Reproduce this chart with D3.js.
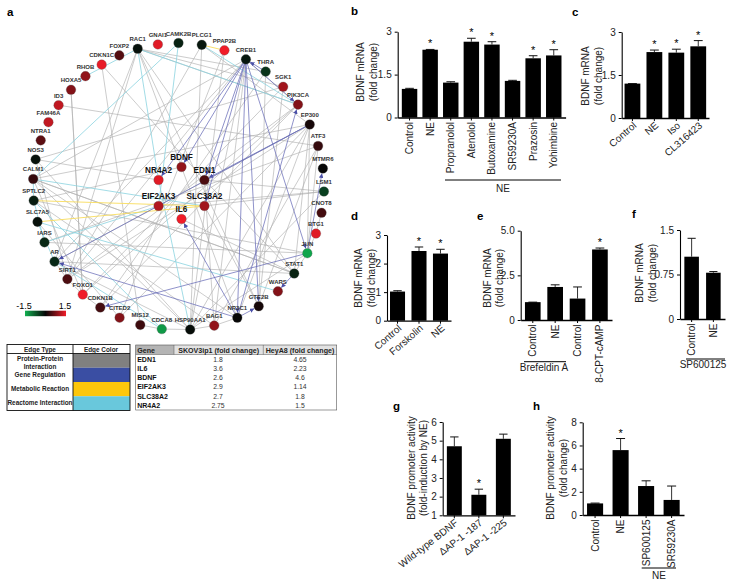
<!DOCTYPE html>
<html>
<head>
<meta charset="utf-8">
<script src="https://cdn.jsdelivr.net/npm/d3@7"></script>
<style>
body { margin: 0; background: #fff; }
svg { display: block; font-family: "Liberation Sans", Arial, sans-serif; }
</style>
</head>
<body>
<div id="chart"></div>
<script>
// network nodes, clockwise, with expression value
const outerGenes = ["RAC1","GNAI1","CAMK2B","PLCG1","PPAP2B","CREB1","THRA","SGK1","PIK3CA","EP300","ATF3","MTMR6","LSM1","CNOT8","BTG1","JUN","STAT1","WARS","GTE2B","NR3C1","BAG1","HSP90AA1","CDCA8","MIS12","CITED2","CDKN1B","FOXO1","SIRT1","AR","IARS","SLC7A5","SPTLC2","CALM1","NOS3","NTRA1","FAM46A","ID3","HOXA5","RHOB","CDKN1C","FOXP2"];
const outerValues = [-0.1,1.4,-0.25,-0.15,1.5,-0.15,-0.4,1.0,0.8,0.1,0.3,0,-0.5,0.4,1.4,-1.4,-0.25,0.8,0.1,0,0.9,-0.05,-1.3,0.35,0.8,0.4,1.5,0.45,-0.3,-0.3,-0.1,-0.2,0.3,-0.1,0.55,1.2,1.2,0.8,0.9,1.45,0.5];
const innerGenes = ["BDNF","EDN1","SLC38A2","IL6","EIF2AK3","NR4A2"];
const innerValues = [0.9,0.45,1.0,1.5,1.1,1.4];

const grayEdges = [
  ["RAC1","SIRT1"],["RAC1","AR"],["RAC1","NR3C1"],["RAC1","STAT1"],["RAC1","GTE2B"],["RAC1","THRA"],["RAC1","SGK1"],["RAC1","PIK3CA"],
  ["CDKN1C","EDN1"],["HOXA5","FOXO1"],["ID3","ATF3"],["NOS3","NR4A2"],["CALM1","EP300"],["CALM1","CREB1"],["CALM1","FOXO1"],["CALM1","STAT1"],
  ["SPTLC2","BDNF"],["SPTLC2","BAG1"],["SPTLC2","JUN"],["PPAP2B","HSP90AA1"],["PPAP2B","CITED2"],["PLCG1","HSP90AA1"],["PLCG1","EP300"],["PLCG1","SIRT1"],
  ["CREB1","HSP90AA1"],["CREB1","BAG1"],["CREB1","SIRT1"],["CREB1","AR"],["THRA","GTE2B"],["THRA","CDKN1B"],["SGK1","FOXO1"],["SGK1","NOS3"],
  ["PIK3CA","CREB1"],["PIK3CA","SIRT1"],["PIK3CA","CDKN1B"],["PIK3CA","FOXO1"],["EP300","SIRT1"],["EP300","STAT1"],["EP300","HSP90AA1"],["EP300","CITED2"],
  ["EP300","NR3C1"],["EP300","JUN"],["ATF3","JUN"],["ATF3","GTE2B"],["ATF3","BAG1"],["ATF3","IARS"],["LSM1","EIF2AK3"],["LSM1","EDN1"],["LSM1","SLC38A2"],["LSM1","HSP90AA1"],
  ["CNOT8","BTG1"],["BTG1","JUN"],["JUN","STAT1"],["JUN","HSP90AA1"],["STAT1","IL6"],["STAT1","EDN1"],["STAT1","CALM1"],["BAG1","HSP90AA1"],["BAG1","NR3C1"],["BAG1","EDN1"],
  ["HSP90AA1","CALM1"],["HSP90AA1","AR"],["HSP90AA1","NOS3"],["AR","SIRT1"],["AR","EP300"],["AR","STAT1"],["FOXO1","SIRT1"],["FOXO1","CDKN1B"],["FOXO1","HOXA5"],["MIS12","CDKN1C"],
  ["MIS12","CDCA8"],["CDCA8","HSP90AA1"],["SLC38A2","GTE2B"],["IARS","JUN"],["SLC7A5","CITED2"],["SIRT1","NOS3"],["NR3C1","CALM1"],["GTE2B","SGK1"]
];
const cyanEdges = [
  ["RHOB","RAC1"],["CALM1","CAMK2B"],["RAC1","NR4A2"],["RAC1","PIK3CA"],["CAMK2B","EIF2AK3"],["CALM1","SLC38A2"],["IARS","EIF2AK3"],["SLC7A5","WARS"],
  ["AR","CDCA8"],["NR4A2","HSP90AA1"],["SPTLC2","IARS"],["CALM1","SPTLC2"],["SLC7A5","AR"],["PLCG1","PIK3CA"],["SPTLC2","CDCA8"]
];
const yellowEdges = [["PLCG1","PPAP2B"],["SPTLC2","SLC38A2"],["SLC7A5","SLC38A2"]];
const blueEdges = [
  ["CREB1","NR4A2"],["CREB1","BDNF"],["CREB1","EDN1"],["CREB1","SLC38A2"],["CREB1","NR3C1"],["CREB1","GTE2B"],["CREB1","JUN"],["CREB1","PIK3CA"],
  ["EP300","EDN1"],["EP300","AR"],["JUN","CDKN1B"],["NR3C1","AR"],["NR3C1","IL6"],["NR3C1","GTE2B"],["STAT1","WARS"],["NR3C1","PIK3CA"],["JUN","MTMR6"],["THRA","CREB1"]
];

// table contents
const edgeTypes = ["Protein-Protein\nInteraction","Gene Regulation","Metabolic Reaction","Reactome Interaction"];
const tableHeader = ["Gene","SKOV3ip1 (fold change)","HeyA8 (fold change)"];
const tableGenes = ["EDN1","IL6","BDNF","EIF2AK3","SLC38A2","NR4A2"];
const tableSkov = ["1.8","3.6","2.6","2.9","2.7","2.75"];
const tableHey = ["4.65","2.23","4.6","1.14","1.8","1.5"];

// bar panels: value, top of the error bar
const bLabels = ["Control","NE","Propranolol","Atenolol","Butoxamine","SR59230A","Prazosin","Yohimbine"];
const bValues = [1.0,2.37,1.22,2.65,2.55,1.28,2.07,2.17];
const bErrors = [1.02,2.38,1.25,2.77,2.65,1.3,2.16,2.37];
const bStars = [0,1,0,1,1,0,1,1];
const cLabels = ["Control","NE","Iso","CL316423"];
const cValues = [1.2,2.3,2.28,2.5];
const cErrors = [1.2,2.37,2.4,2.7];
const cStars = [0,1,1,1];
const dLabels = ["Control","Forskolin","NE"];
const dValues = [1.02,2.44,2.35];
const dErrors = [1.05,2.58,2.5];
const dStars = [0,1,1];
const eLabels = ["Control","NE","Control ","8-CPT-cAMP"];
const eValues = [1.0,1.85,1.2,3.95];
const eErrors = [1.0,1.97,1.85,4.03];
const eStars = [0,0,0,1];
const fLabels = ["Control","NE"];
const fValues = [1.05,0.78];
const fErrors = [1.36,0.8];
const fStars = [0,0];
const gLabels = ["Wild-type BDNF","\u0394AP-1 -187","\u0394AP-1 -225"];
const gValues = [4.7,2.1,5.1];
const gErrors = [5.2,2.4,5.35];
const gStars = [0,1,0];
const hLabels = ["Control","NE","SP600125","SR59230A"];
const hValues = [1.0,5.6,2.5,1.3];
const hErrors = [1.03,6.6,2.95,2.5];
const hStars = [0,1,0,0];

const svg = d3.select("#chart").append("svg").attr("width", 733).attr("height", 585);

// ---- panel letters
[["a",7,16],["b",351,15],["c",572,16],["d",351,220],["e",477,220],["f",632,218],["g",393,410],["h",533,410]].forEach((d) => {
    svg.append("text").attr("x", d[1]).attr("y", d[2]).attr("font-size", 11.5).attr("font-weight", "bold").text(d[0]);
});

// ---- network
const color = d3.scaleLinear().domain([-1.5, 0, 1.5]).range(["#10b050", "#060606", "#f01c28"]);
// circular layout, the spacing is a bit uneven in the original so the scale is piecewise
const outerAngle = d3.scaleLinear().domain([0, 2, 12, 15, 21, 22, 32, 40]).range([-106.3, -90, 2, 27.7, 85.4, 96.6, 183, 246]);
const innerAngle = d3.scaleLinear().domain([0, 6]).range([-90, 270]);
const nodes = {};
outerGenes.forEach((g, i) => {
    const a = outerAngle(i) * Math.PI / 180;
    nodes[g] = { name: g, value: outerValues[i], x: 178.5 + 145.5 * Math.cos(a), y: 186.5 + 143.5 * Math.sin(a), inner: false };
});
innerGenes.forEach((g, i) => {
    const a = innerAngle(i) * Math.PI / 180;
    nodes[g] = { name: g, value: innerValues[i], x: 181.5 + 26.5 * Math.cos(a), y: 193 + 26 * Math.sin(a), inner: true };
});

const defs = svg.append("defs");
defs.append("marker").attr("id", "arrow").attr("viewBox", "0 0 6 6").attr("refX", 6).attr("refY", 3)
    .attr("markerWidth", 4.5).attr("markerHeight", 4.5).attr("markerUnits", "userSpaceOnUse").attr("orient", "auto")
    .append("path").attr("d", "M0,0L6,3L0,6z").attr("fill", "#4b50a8");

function drawEdges(list, stroke, width, arrow) {
    svg.append("g").selectAll("line").data(list).enter().append("line")
        .attr("x1", (d) => nodes[d[0]].x)
        .attr("y1", (d) => nodes[d[0]].y)
        .attr("x2", (d) => {
            const s = nodes[d[0]], t = nodes[d[1]];
            return t.x - 5 * (t.x - s.x) / Math.hypot(t.x - s.x, t.y - s.y);
        })
        .attr("y2", (d) => {
            const s = nodes[d[0]], t = nodes[d[1]];
            return t.y - 5 * (t.y - s.y) / Math.hypot(t.x - s.x, t.y - s.y);
        })
        .attr("stroke", stroke)
        .attr("stroke-width", width)
        .attr("marker-end", arrow ? "url(#arrow)" : null);
}
drawEdges(grayEdges, "#b0b0b0", 0.65, false);
drawEdges(cyanEdges, "#8ad3df", 0.8, false);
drawEdges(yellowEdges, "#f8dc5c", 0.9, false);
drawEdges(blueEdges, "#6a6eb8", 0.75, true);

const nodeList = Object.values(nodes);
svg.append("g").selectAll("circle").data(nodeList).enter().append("circle")
    .attr("cx", (d) => d.x).attr("cy", (d) => d.y).attr("r", 4.8)
    .attr("fill", (d) => color(d.value)).attr("stroke", "#555").attr("stroke-width", 0.3);
svg.append("g").selectAll("text").data(nodeList).enter().append("text")
    .attr("x", (d) => d.x).attr("y", (d) => d.y - 7.5)
    .attr("text-anchor", "middle")
    .attr("font-weight", "bold")
    .attr("fill", (d) => d.inner ? "#111" : "#333")
    .attr("font-size", (d) => d.inner ? 8.2 : 6)
    .text((d) => d.name);

// ---- colour legend
const legendScale = d3.scaleLinear().domain([-1.5, 1.5]).range([25, 66]);
const grad = defs.append("linearGradient").attr("id", "legendGrad");
[-1.5, 0, 1.5].forEach((v) => {
    grad.append("stop").attr("offset", (v + 1.5) / 3).attr("stop-color", color(v));
});
svg.append("rect").attr("x", legendScale(-1.5)).attr("y", 310.7).attr("width", legendScale(1.5) - legendScale(-1.5)).attr("height", 5.5).attr("fill", "url(#legendGrad)");
svg.append("text").attr("x", legendScale(-1.5) - 1).attr("y", 309).attr("text-anchor", "middle").attr("font-size", 9).text("-1.5");
svg.append("text").attr("x", legendScale(1.5) - 1).attr("y", 309).attr("text-anchor", "middle").attr("font-size", 9).text("1.5");

// ---- edge type table
const edgeFill = ["#808080", "#3a4ea3", "#fdc70c", "#69c8dc"];
const edgeRow = d3.scaleBand().domain(edgeTypes).range([353.5, 410.5]);
const tableA = svg.append("g");
tableA.selectAll("rect.swatch").data(edgeTypes).enter().append("rect")
    .attr("x", 73).attr("y", (d) => edgeRow(d)).attr("width", 57).attr("height", edgeRow.bandwidth())
    .attr("fill", (d, i) => edgeFill[i]);
tableA.append("rect").attr("x", 7).attr("y", 344.5).attr("width", 123).attr("height", 66).attr("fill", "none").attr("stroke", "#111").attr("stroke-width", 0.9);
tableA.append("line").attr("x1", 7).attr("x2", 130).attr("y1", 353.5).attr("y2", 353.5).attr("stroke", "#111").attr("stroke-width", 0.9);
tableA.append("line").attr("x1", 73).attr("x2", 73).attr("y1", 344.5).attr("y2", 410.5).attr("stroke", "#111").attr("stroke-width", 0.9);
tableA.selectAll("text.head").data(["Edge Type", "Edge Color"]).enter().append("text")
    .attr("x", (d, i) => i ? 101 : 40).attr("y", 352).attr("text-anchor", "middle")
    .attr("font-size", 6.4).attr("font-weight", "bold").attr("fill", "#222").text((d) => d);
[["Protein-Protein", 361], ["Interaction", 369], ["Gene Regulation", 377], ["Metabolic Reaction", 391], ["Reactome Interaction", 405]].forEach((d) => {
    tableA.append("text").attr("x", 40).attr("y", d[1]).attr("text-anchor", "middle").attr("font-size", 6.4).attr("font-weight", "bold").attr("fill", "#222").text(d[0]);
});

// ---- gene table
const tableB = svg.append("g");
const colEdges = [135.7, 174, 263.3, 336.7];
const geneRow = d3.scaleBand().domain(tableGenes).range([354.5, 410]);
tableB.append("rect").attr("x", colEdges[0]).attr("y", 345).attr("width", colEdges[1] - colEdges[0]).attr("height", 9.5).attr("fill", "#b4b4b4");
tableB.append("rect").attr("x", colEdges[1]).attr("y", 345).attr("width", colEdges[3] - colEdges[1]).attr("height", 9.5).attr("fill", "#e2e2e2");
tableB.append("rect").attr("x", colEdges[0]).attr("y", 345).attr("width", colEdges[3] - colEdges[0]).attr("height", 65).attr("fill", "none").attr("stroke", "#555").attr("stroke-width", 0.6);
tableB.append("line").attr("x1", colEdges[0]).attr("x2", colEdges[3]).attr("y1", 354.5).attr("y2", 354.5).attr("stroke", "#555").attr("stroke-width", 0.5);
colEdges.slice(1, 3).forEach((x) => {
    tableB.append("line").attr("x1", x).attr("x2", x).attr("y1", 345).attr("y2", 354.5).attr("stroke", "#555").attr("stroke-width", 0.5);
});
tableHeader.forEach((h, i) => {
    tableB.append("text").attr("x", i ? (colEdges[i] + colEdges[i + 1]) / 2 : colEdges[0] + 1.5).attr("y", 352.5)
        .attr("text-anchor", i ? "middle" : "start").attr("font-size", 7.1).attr("font-weight", "bold").attr("fill", "#222").text(h);
});
tableGenes.forEach((g, i) => {
    const y = geneRow(g) + 7;
    tableB.append("text").attr("x", colEdges[0] + 1.5).attr("y", y).attr("font-size", 7).attr("font-weight", "bold").attr("fill", "#111").text(g);
    tableB.append("text").attr("x", 218).attr("y", y).attr("text-anchor", "middle").attr("font-size", 6.8).attr("fill", "#333").text(tableSkov[i]);
    tableB.append("text").attr("x", 300).attr("y", y).attr("text-anchor", "middle").attr("font-size", 6.8).attr("fill", "#333").text(tableHey[i]);
});

// ---- bar panels
function barPanel(o) {
    const g = svg.append("g");
    const x = d3.scaleBand().domain(o.labels).range(o.xRange).paddingInner(o.inner).paddingOuter(o.outer);
    const y = d3.scaleLinear().domain(o.domain).range(o.yRange);

    const xAxis = g.append("g").attr("transform", `translate(0,${o.yRange[0]})`).call(d3.axisBottom(x).tickSize(3).tickSizeOuter(0));
    const yAxis = g.append("g").attr("transform", `translate(${o.xRange[0]},0)`).call(d3.axisLeft(y).tickValues(o.ticks).tickFormat((d, i) => o.tickText[i]).tickSize(3).tickSizeOuter(0));
    [xAxis, yAxis].forEach((a) => {
        a.selectAll("path,line").attr("stroke", "#000").attr("stroke-width", 1);
        a.selectAll("text").attr("font-size", 10).attr("font-family", "Liberation Sans").attr("fill", "#222");
    });
    yAxis.select("path").attr("stroke-width", 1.1);
    xAxis.select("path").attr("stroke-width", 1.3);
    if (o.rotate === 90) {
        xAxis.selectAll("text").attr("text-anchor", "end").attr("transform", "rotate(-90)").attr("x", -4.5).attr("y", 0).attr("dy", "0.35em");
    } else {
        xAxis.selectAll("text").attr("text-anchor", "end").attr("transform", "rotate(-" + o.rotate + ")").attr("x", -2).attr("y", 6).attr("dy", "0.35em");
    }

    g.selectAll("line.err").data(o.labels).enter().append("line")
        .attr("x1", (d) => x(d) + x.bandwidth() / 2).attr("x2", (d) => x(d) + x.bandwidth() / 2)
        .attr("y1", (d, i) => y(o.values[i])).attr("y2", (d, i) => y(o.errors[i]))
        .attr("stroke", "#333").attr("stroke-width", 1);
    g.selectAll("line.cap").data(o.labels).enter().append("line")
        .attr("x1", (d) => x(d) + x.bandwidth() * 0.22).attr("x2", (d) => x(d) + x.bandwidth() * 0.78)
        .attr("y1", (d, i) => y(o.errors[i])).attr("y2", (d, i) => y(o.errors[i]))
        .attr("stroke", "#111").attr("stroke-width", 1);
    g.selectAll("rect").data(o.labels).enter().append("rect")
        .attr("x", (d) => x(d)).attr("width", x.bandwidth())
        .attr("y", (d, i) => y(o.values[i])).attr("height", (d, i) => o.yRange[0] - y(o.values[i]))
        .attr("fill", "#000");
    g.selectAll("text.star").data(o.labels.filter((d, i) => o.stars[i])).enter().append("text")
        .attr("x", (d) => x(d) + x.bandwidth() / 2)
        .attr("y", (d) => y(o.errors[o.labels.indexOf(d)]) - 2)
        .attr("text-anchor", "middle").attr("font-size", 11).text("*");

    o.title.forEach((t, i) => {
        g.append("text").attr("transform", `translate(${o.titleX[i]},${o.titleY}) rotate(-90)`)
            .attr("text-anchor", "middle").attr("dy", "0.35em").attr("font-size", 10).attr("fill", "#222").text(t);
    });
    return x;
}

function underline(x1, x2, y, label, tx, ty) {
    svg.append("line").attr("x1", x1).attr("x2", x2).attr("y1", y).attr("y2", y).attr("stroke", "#000").attr("stroke-width", 1);
    svg.append("text").attr("x", tx).attr("y", ty).attr("text-anchor", "middle").attr("font-size", 10).attr("fill", "#222").text(label);
}

const mrna = ["BDNF mRNA", "(fold change)"];
barPanel({ labels: bLabels, values: bValues, errors: bErrors, stars: bStars, domain: [0, 3], ticks: [0, 1.5, 3], tickText: ["0", "1.5", "3"],
    xRange: [397.7, 565.6], yRange: [117.5, 31.7], inner: 0.25, outer: 0.2, rotate: 90, title: mrna, titleX: [360, 373], titleY: 72 });
underline(445, 561, 180, "NE", 503, 192);
barPanel({ labels: cLabels, values: cValues, errors: cErrors, stars: cStars, domain: [0, 3], ticks: [0, 1.5, 3], tickText: ["0", "1.5", "3"],
    xRange: [621.7, 709], yRange: [118, 32], inner: 0.28, outer: 0.13, rotate: 41, title: mrna, titleX: [585, 598], titleY: 76 });
barPanel({ labels: dLabels, values: dValues, errors: dErrors, stars: dStars, domain: [0, 3], ticks: [0, 1, 2, 3], tickText: ["0", "1", "2", "3"],
    xRange: [387, 451], yRange: [320.7, 235], inner: 0.3, outer: 0.14, rotate: 41, title: mrna, titleX: [358, 371], titleY: 278 });
barPanel({ labels: eLabels, values: eValues, errors: eErrors, stars: eStars, domain: [0, 5], ticks: [0, 2.5, 5], tickText: ["0", "2.5", "5.0"],
    xRange: [520.7, 612], yRange: [320, 230.7], inner: 0.3, outer: 0.19, rotate: 90, title: mrna, titleX: [487, 499], titleY: 278 });
underline(524, 566, 361.7, "Brefeldin A", 544, 371);
barPanel({ labels: fLabels, values: fValues, errors: fErrors, stars: fStars, domain: [0, 1.5], ticks: [0, 0.75, 1.5], tickText: ["0", "0.75", "1.5"],
    xRange: [680, 725], yRange: [319, 230], inner: 0.33, outer: 0.2, rotate: 90, title: mrna, titleX: [639, 652], titleY: 273 });
underline(686, 725, 359, "SP600125", 703, 368);
barPanel({ labels: gLabels, values: gValues, errors: gErrors, stars: gStars, domain: [1, 6], ticks: [1, 2, 3, 4, 5, 6], tickText: ["1", "2", "3", "4", "5", "6"],
    xRange: [442.7, 515], yRange: [515.3, 422], inner: 0.39, outer: 0.17, rotate: 38, title: ["BDNF promoter activity", "(fold-induction by NE)"], titleX: [411, 423], titleY: 468 });
barPanel({ labels: hLabels, values: hValues, errors: hErrors, stars: hStars, domain: [0, 8], ticks: [0, 2, 4, 6, 8], tickText: ["0", "2", "4", "6", "8"],
    xRange: [582.7, 684], yRange: [515, 422.3], inner: 0.37, outer: 0.17, rotate: 90, title: ["BDNF promoter activity", "(fold change)"], titleX: [550, 563], titleY: 468 });
underline(641.7, 676, 568, "NE", 659, 579);
</script>
</body>
</html>
